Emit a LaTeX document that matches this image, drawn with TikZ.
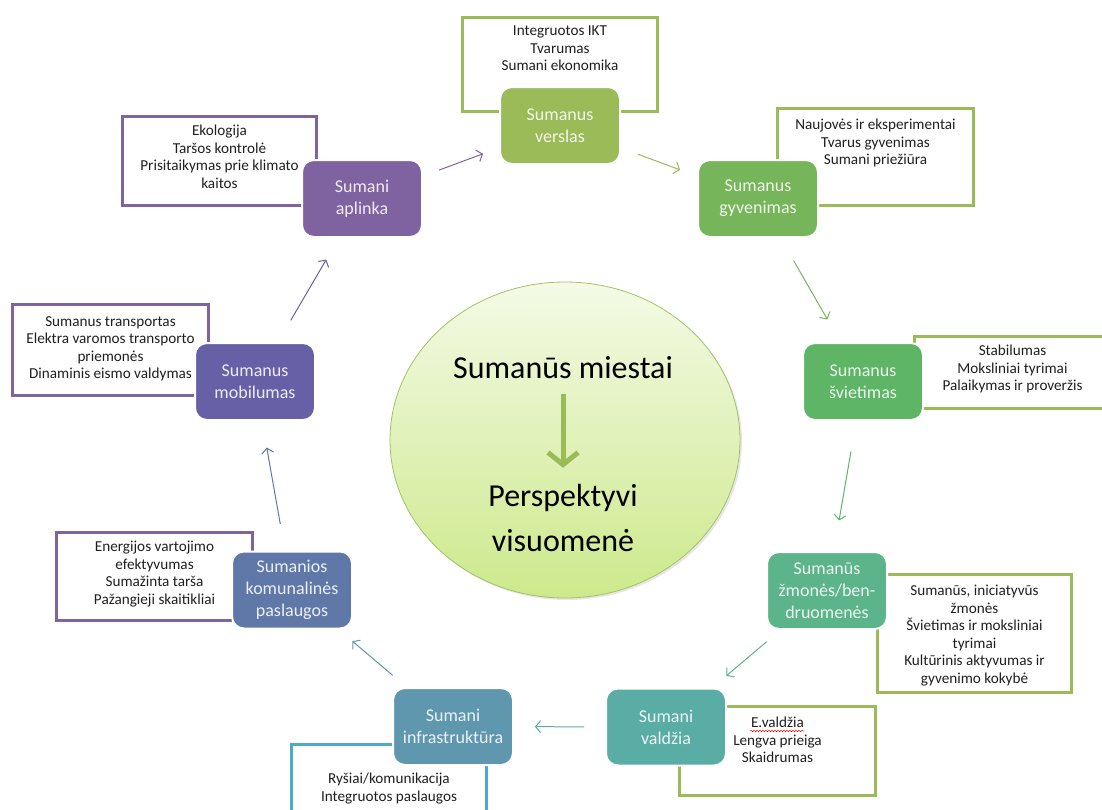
\documentclass[tikz,border=0pt]{standalone}
\usepackage{fontspec}
\setmainfont{Carlito}
\usetikzlibrary{positioning,arrows.meta,shapes.geometric,shadows,decorations.pathmorphing}

\definecolor{olivegreen}{HTML}{9BBB59}
\definecolor{skyblue}{HTML}{4BACC6}
\definecolor{lilac}{HTML}{8064A2}
\definecolor{gyvenimascol}{HTML}{77B55A}
\definecolor{svietimascol}{HTML}{5EB566}
\definecolor{zmonescol}{HTML}{5CB48B}
\definecolor{valdziacol}{HTML}{5AADA5}
\definecolor{infracol}{HTML}{5F97AF}
\definecolor{komunalcol}{HTML}{5F78A8}
\definecolor{mobilcol}{HTML}{6760A7}
\definecolor{aplinkacol}{HTML}{7F62A0}
\definecolor{hubtop}{HTML}{F4FAE6}
\definecolor{hubbottom}{HTML}{CDE98C}
\definecolor{hubline}{HTML}{A3C265}

\begin{document}
\begin{tikzpicture}[
    x = 1pt, y = -1pt,
    area/.style = {rounded corners = 12pt, draw = white, line width = 2pt,
        minimum width = 120pt, minimum height = 77pt, inner sep = 2pt,
        align = center, text = white, text opacity = 0.88,
        font = \fontsize{18}{22}\selectfont},
    frame/.style = {draw = #1, line width = 3pt, inner sep = 0pt},
    note/.style = {align = center, text = black!88, inner sep = 0pt,
        font = \fontsize{15.2}{17.5}\selectfont},
    flow/.style = {draw = #1, line width = 1pt,
        -{Straight Barb[length = 5pt, width = 12pt]}},
    gap/.style = {shorten <= #1, shorten >= #1}]

\useasboundingbox (0,0) rectangle (1102,809);

% frames with the key words
\node[frame=olivegreen, minimum width=195pt, minimum height=94pt] (verslasframe) at (560,64.5) {};
\node[frame=olivegreen, minimum width=196pt, minimum height=97pt] (gyvenimasframe) at (875.5,157) {};
\node[frame=olivegreen, minimum width=196pt, minimum height=72pt] (svietimasframe) at (1012.5,372.5) {};
\node[frame=olivegreen, minimum width=194pt, minimum height=118pt] (zmonesframe) at (974.5,633.5) {};
\node[frame=olivegreen, minimum width=196pt, minimum height=89pt] (valdziaframe) at (777.5,751) {};
\node[frame=skyblue, minimum width=195pt, minimum height=84pt] (infraframe) at (389,786.5) {};
\node[frame=lilac, minimum width=196pt, minimum height=88pt] (komunalframe) at (154.5,576.5) {};
\node[frame=lilac, minimum width=196pt, minimum height=91pt] (mobilframe) at (110.5,350) {};
\node[frame=lilac, minimum width=194pt, minimum height=89pt] (aplinkaframe) at (219.5,161) {};

\node[note, below=10pt of verslasframe.north] (verslasnote)
    {Integruotos IKT\\Tvarumas\\Sumani ekonomika};
\node[note, below=12pt of gyvenimasframe.north] (gyvenimasnote)
    {Naujovės ir eksperimentai\\Tvarus gyvenimas\\Sumani priežiūra};
\node[note, below=10pt of svietimasframe.north] (svietimasnote)
    {Stabilumas\\Moksliniai tyrimai\\Palaikymas ir proveržis};
\node[note, below=12pt of zmonesframe.north] (zmonesnote)
    {Sumanūs, iniciatyvūs\\žmonės\\Švietimas ir moksliniai\\tyrimai\\Kultūrinis aktyvumas ir\\gyvenimo kokybė};
\node[note, below=12pt of valdziaframe.north] (valdzianote)
    {E.valdžia\\Lengva prieiga\\Skaidrumas};
\node[note, below=30pt of infraframe.north] (infranote)
    {Ryšiai/komunikacija\\Integruotos paslaugos};
\node[note, below=10pt of komunalframe.north] (komunalnote)
    {Energijos vartojimo\\efektyvumas\\Sumažinta tarša\\Pažangieji skaitikliai};
\node[note, below=13pt of mobilframe.north] (mobilnote)
    {Sumanus transportas\\Elektra varomos transporto\\priemonės\\Dinaminis eismo valdymas};
\node[note, below=10pt of aplinkaframe.north] (aplinkanote)
    {Ekologija\\Taršos kontrolė\\Prisitaikymas prie klimato\\kaitos};

% spelling mark
\draw[red, line width=0.5pt, decorate, decoration={snake, amplitude=0.7pt, segment length=3pt}]
    (750,731) -- (804,731);

% the nine areas
\node[area, fill=olivegreen] (verslas) at (560,125.5) {Sumanus\\verslas};
\node[area, fill=gyvenimascol] (gyvenimas) at (758,198.5) {Sumanus\\gyvenimas};
\node[area, fill=svietimascol] (svietimas) at (863,381.5) {Sumanus\\švietimas};
\node[area, fill=zmonescol] (zmones) at (827,590.5) {Sumanūs\\žmonės/ben-\\druomenės};
\node[area, fill=valdziacol] (valdzia) at (666,727) {Sumani\\valdžia};
\node[area, fill=infracol] (infra) at (453,726.5) {Sumani\\infrastruktūra};
\node[area, fill=komunalcol] (komunal) at (292,590) {Sumanios\\komunalinės\\paslaugos};
\node[area, fill=mobilcol] (mobil) at (255,381.5) {Sumanus\\mobilumas};
\node[area, fill=aplinkacol] (aplinka) at (362,198.5) {Sumani\\aplinka};

\draw[flow=lilac, gap=17pt] (aplinka) -- (verslas);
\draw[flow=olivegreen, gap=18pt] (verslas) -- (gyvenimas);
\draw[flow=gyvenimascol, gap=26pt] (gyvenimas) -- (svietimas);
\draw[flow=svietimascol, gap=31pt] (svietimas) -- (zmones);
\draw[flow=zmonescol, gap=18pt] (zmones) -- (valdzia);
\draw[flow=valdziacol, gap=21pt] (valdzia) -- (infra);
\draw[flow=infracol, gap=18pt] (infra) -- (komunal);
\draw[flow=komunalcol, gap=27pt] (komunal) -- (mobil);
\draw[flow=mobilcol, gap=25pt] (mobil) -- (aplinka);

% centre
\node[ellipse, minimum width=350pt, minimum height=316pt, draw=hubline, line width=0.8pt,
    top color=hubtop, bottom color=hubbottom,
    drop shadow={shadow xshift=2pt, shadow yshift=-2pt, opacity=0.2}] (hub) at (565,440) {};
\node[font=\fontsize{32}{38}\selectfont, anchor=base] (cities) at (563,378) {Sumanūs miestai};
\node[font=\fontsize{32}{45}\selectfont, align=center] (society) at (563,518) {Perspektyvi\\visuomenė};
\draw[olivegreen, line width=5pt, shorten <=12pt, shorten >=13pt,
    -{Straight Barb[length=12pt, width=30pt]}] (cities) -- (society);

\end{tikzpicture}
\end{document}
